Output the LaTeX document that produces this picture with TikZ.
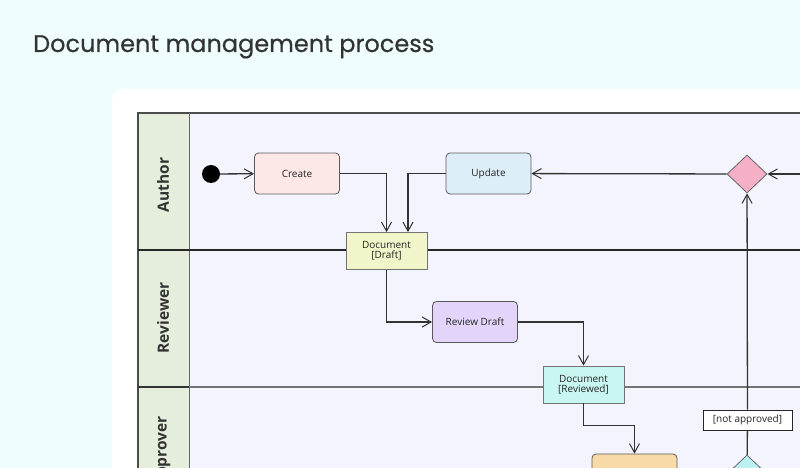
\documentclass[tikz,border=0pt]{standalone}
\usepackage{fontspec}
\usepackage{xcolor}
\usetikzlibrary{arrows.meta,shapes.geometric}

\newfontfamily\titlefont[FakeBold=0.4]{Poppins}
\newfontfamily\boxfont{Open Sans}

\definecolor{pagebg}{HTML}{EFFDFE}
\definecolor{lanebg}{HTML}{F4F4FE}
\definecolor{headbg}{HTML}{E5EEDC}
\definecolor{createbg}{HTML}{FDE8E8}
\definecolor{updatebg}{HTML}{DDEEF8}
\definecolor{draftbg}{HTML}{F1F5C9}
\definecolor{reviewbg}{HTML}{E2D5F9}
\definecolor{reviewedbg}{HTML}{C9F6F1}
\definecolor{approvebg}{HTML}{F8DAA8}
\definecolor{decidebg}{HTML}{F5B0C8}
\definecolor{checkbg}{HTML}{BCF1F3}
\definecolor{edge}{HTML}{333333}

\tikzset{
	act/.style={rectangle, rounded corners=4pt, draw=black!65, line width=0.8pt,
		minimum width=85pt, minimum height=41pt, inner sep=2pt,
		font=\boxfont\fontsize{10}{12}\selectfont, text=black!85},
	obj/.style={rectangle, draw=black!55, line width=0.8pt, align=center,
		minimum width=81pt, minimum height=37pt, inner sep=1pt,
		font=\boxfont\fontsize{10}{12}\selectfont, text=black!85},
	dec/.style={diamond, draw=black!60, line width=0.8pt, inner sep=0pt,
		minimum width=40pt, minimum height=38pt},
	flow/.style={draw=edge, line width=1.3pt, -{Straight Barb[length=9pt,width=10pt,line width=1pt]}},
	lanelabel/.style={rotate=90, font=\boxfont\bfseries\fontsize{15.5}{18}\selectfont, text=black!80}
}

\begin{document}
\begin{tikzpicture}[x=1pt, y=-1pt]
	% Page and card
	\useasboundingbox (0,0) rectangle (800,468);
	\clip (0,0) rectangle (800,468);
	\fill[pagebg] (0,0) rectangle (800,468);
	\fill[white, rounded corners=11pt] (112,89) rectangle (900,600);
	\node[font=\titlefont\fontsize{24}{29}\selectfont, text=black!80, anchor=base west, inner sep=0pt] (title) at (33,52) {Document management process};
	
	% Lanes
	\fill[lanebg] (189,113) rectangle (900,600);
	\fill[headbg] (138,113) rectangle (189,600);
	\draw[black!70, line width=1.3pt] (138,600) -- (138,113) -- (900,113);
	\draw[black!60, line width=1pt] (189,113) -- (189,600);
	\draw[black!85, line width=1.1pt] (138,250) -- (900,250);
	\draw[black!55, line width=1.1pt] (189,387) -- (900,387);
	\draw[black!80, line width=1.3pt] (138,387) -- (189,387);
	\node[lanelabel] (author) at (163,185) {Author};
	\node[lanelabel] (reviewer) at (163,318) {Reviewer};
	\node[lanelabel] (approver) at (163,452) {Approver};
	
	% Nodes
	\node[circle, fill=black, minimum size=18pt, inner sep=0pt] (start) at (211,174) {};
	\node[act, fill=createbg] (create) at (297,173.5) {Create};
	\node[act, fill=updatebg] (update) at (488.5,173.5) {Update};
	\node[obj, fill=draftbg] (draft) at (386.5,251) {Document\\[-2pt][Draft]};
	\node[act, fill=reviewbg] (review) at (475,322) {Review Draft};
	\node[obj, fill=reviewedbg] (reviewed) at (583.5,384.5) {Document\\[-2pt][Reviewed]};
	\node[act, fill=approvebg] (approve) at (634.5,474.5) {};
	\node[dec, fill=decidebg] (decide) at (747,174) {};
	\node[dec, fill=checkbg] (check) at (747,474) {};
	\node[rectangle, draw=black!85, fill=white, line width=0.9pt, minimum width=89pt, minimum height=20pt, inner sep=1pt,
		font=\boxfont\fontsize{10}{12}\selectfont, text=black!85] (notapp) at (747.5,420) {[not approved]};
	\coordinate (inflow) at (830,174);
	
	% Edges
	\draw[flow] (start) -- (create);
	\draw[flow] (create) -| (draft);
	\draw[flow] (update) -| ([xshift=21.5pt]draft.north);
	\draw[flow] (draft) |- (review);
	\draw[flow] (review) -| (reviewed);
	\draw[flow] (reviewed.south) -- ++(0,22) -| (approve.north);
	\draw[flow] (check) -- (notapp) -- (decide);
	\draw[flow] (decide) -- (update);
	\draw[flow] (inflow) -- (decide);
	
\end{tikzpicture}
\end{document}
